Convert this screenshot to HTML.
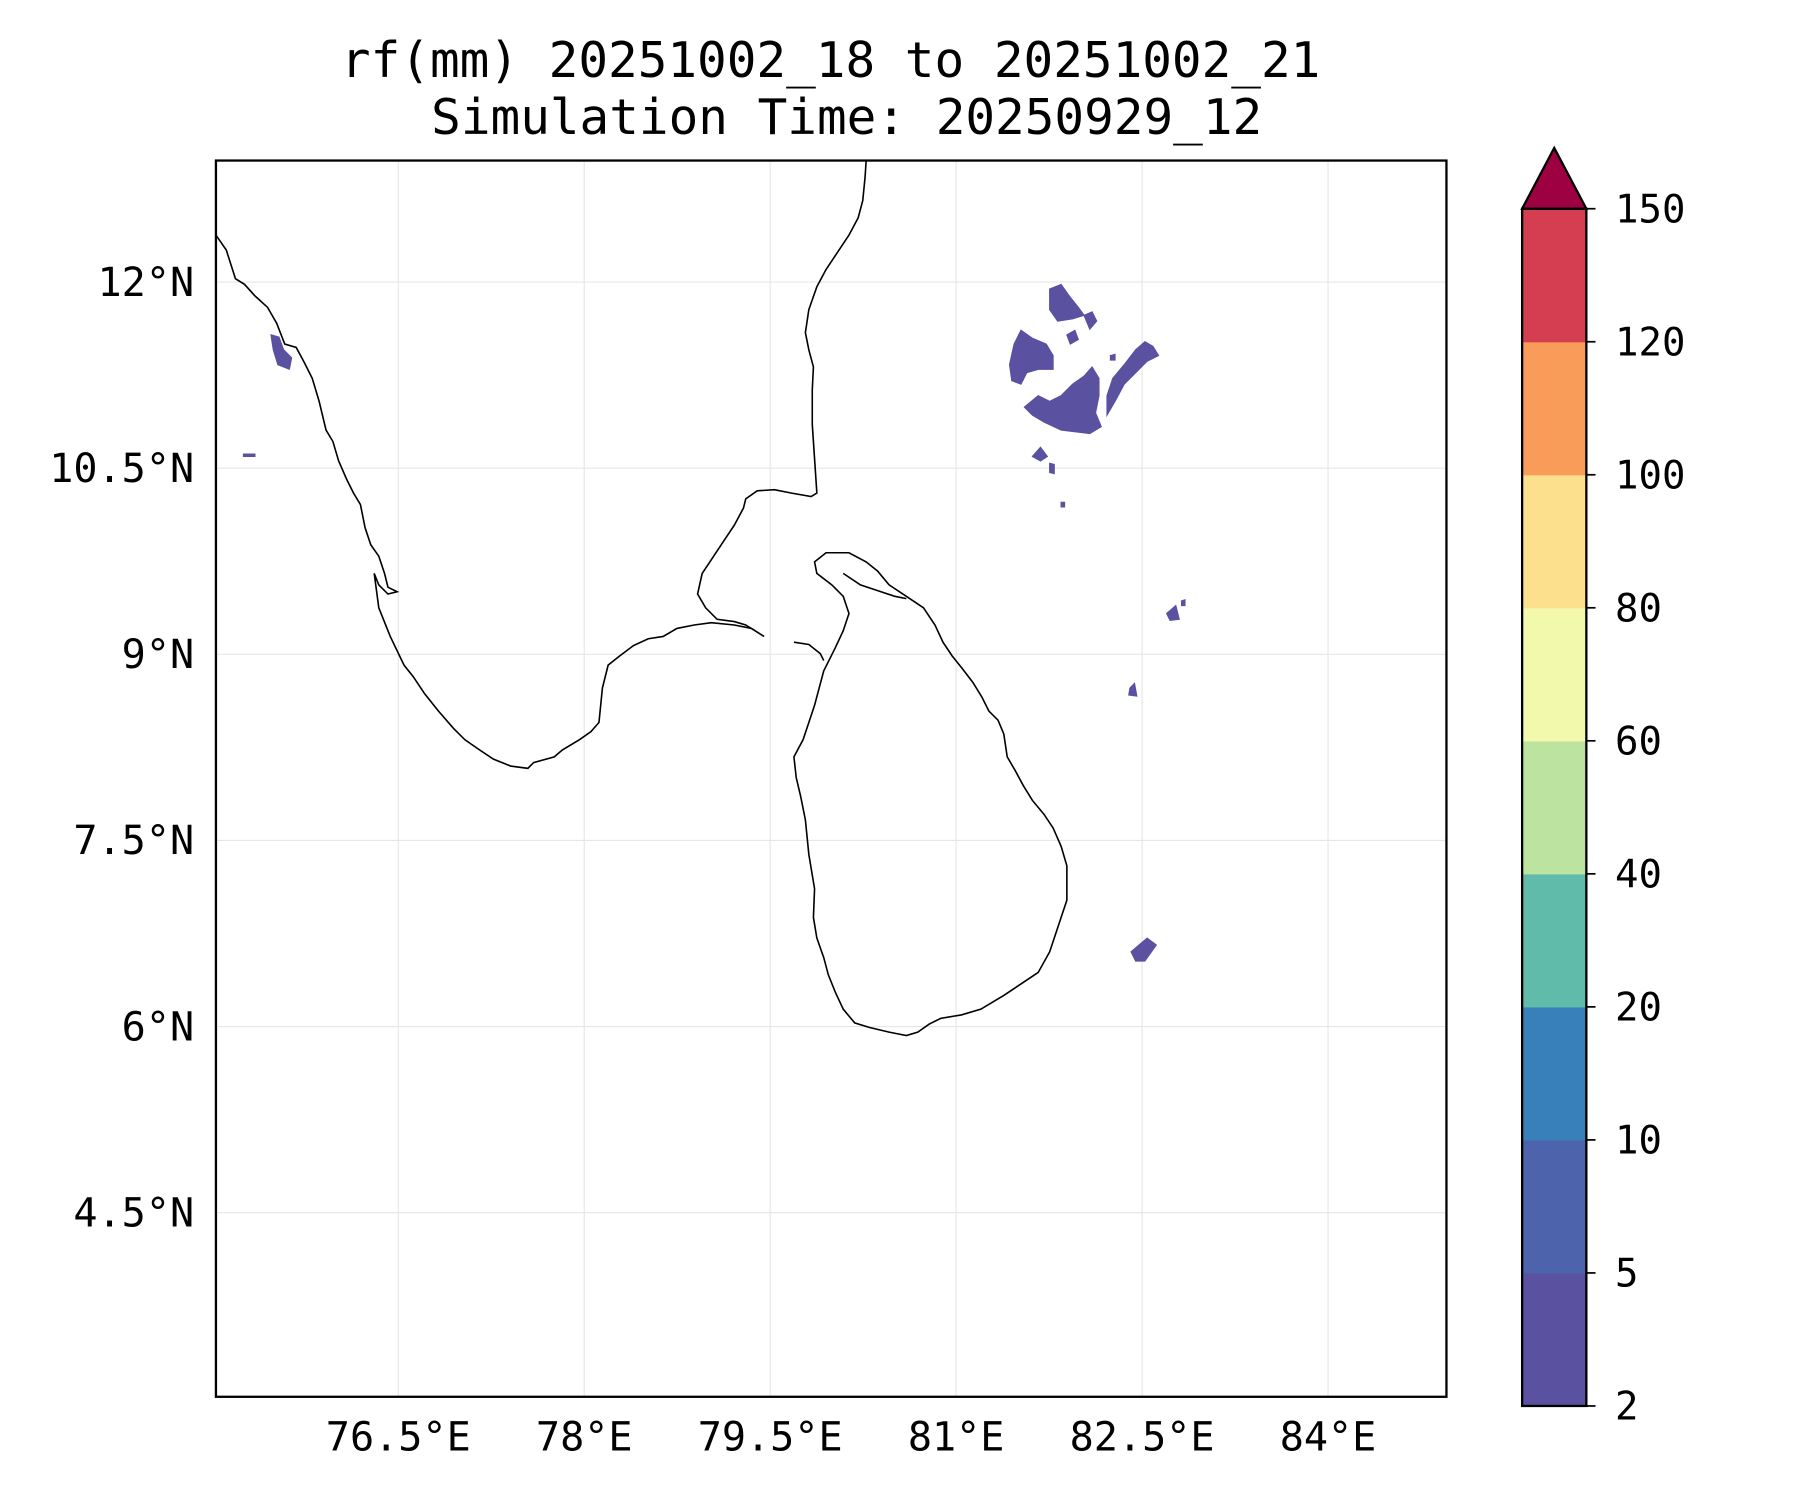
<!DOCTYPE html>
<html><head><meta charset="utf-8"><style>
html,body{margin:0;padding:0;background:#fff;width:1800px;height:1500px;overflow:hidden}
svg{display:block}
text{font-family:"DejaVu Sans Mono","Liberation Mono",monospace;fill:#000}
</style></head><body>
<svg id="chart" width="1800" height="1500" viewBox="0 0 1569 1308" xmlns="http://www.w3.org/2000/svg">
<text x="724" y="67" font-size="43" text-anchor="middle">rf(mm) 20251002_18 to 20251002_21</text>
<text x="738" y="117" font-size="43" text-anchor="middle">Simulation Time: 20250929_12</text>
<g id="grid"></g>
<g fill="#5a51a1" stroke="#5a51a1" stroke-width="1">
<polygon points="915,252 925,248 932,258 940,268 945,275 935,278 922,280 915,270"/>
<polygon points="884,300 890,288 900,295 912,300 918,310 918,322 905,322 895,325 890,335 882,332 880,318"/>
<polygon points="893,355 905,345 915,350 925,345 935,335 945,328 952,320 958,330 958,345 955,360 960,372 950,378 925,375 910,368 900,362"/>
<polygon points="965,345 970,330 980,318 990,305 998,298 1005,302 1010,310 1000,315 990,325 980,335 972,350 965,362"/>
<polygon points="945,275 952,272 956,280 950,287"/>
<polygon points="930,292 937,288 940,296 933,300"/>
<polygon points="900,398 907,390 913,398 907,402"/>
<polygon points="915,404 919,405 919,413 915,412"/>
<polygon points="1017,535 1025,528 1028,540 1020,541"/>
<polygon points="985,600 989,596 991,607 984,606"/>
<polygon points="986,830 1000,818 1008,824 998,838 990,838"/>
<polygon points="236,292 243,294 247,305 254,312 252,322 242,318 238,305"/>
<polygon points="212,396 222,396 222,398 212,398"/>
<polygon points="925,438 928,438 928,442 925,442"/>
<polygon points="968,310 972,309 972,314 968,314"/>
<polygon points="1030,524 1033,523 1033,528 1030,528"/>
</g>
<g fill="none" stroke="#000" stroke-width="1.4">
<polyline points="188,205 197,218 205,243 213,248 222,258 233,268 241,282 248,300 258,303 265,316 272,330 278,350 284,375 290,385 295,402 302,418 308,430 314,440 318,460 323,475 330,485 335,500 338,512 346,516 338,518 330,510 326,500 330,530 340,555 352,580 360,590 370,605 382,620 395,635 405,645 418,654 430,662 445,668 460,670 465,665 483,660 490,654 505,645 515,638 522,630 525,600 530,580 540,572 552,563 565,557 578,555 590,548 605,545 620,543 640,545 655,548 666,555 650,545 640,542 625,540 615,530 608,518 612,500 622,485 632,470 640,458 648,443 650,435 660,428 675,427 690,430 707,433 712,430 710,400 708,370 708,340 709,320 705,305 702,290 705,270 712,250 720,235 730,220 740,205 748,190 752,175 754,155 755,140"/>
<polygon points="710,490 720,482 740,482 755,490 765,498 775,510 790,520 805,530 815,545 822,560 830,572 838,582 848,595 856,608 862,620 870,628 875,640 878,660 885,672 892,685 900,698 910,710 918,722 925,738 930,755 930,785 925,800 920,815 915,830 905,848 890,858 875,868 855,880 838,885 820,888 810,893 800,900 790,903 775,900 758,896 745,892 735,880 728,865 722,850 718,835 712,818 709,800 710,775 705,745 702,715 698,695 694,678 692,660 700,645 705,630 710,615 714,600 718,585 728,565 735,550 740,535 735,520 725,510 712,500"/>
<polyline points="692,560 705,562 715,570 718,576"/>
<polyline points="735,500 750,510 765,515 780,520 790,522"/>
</g>
<rect x="188" y="140" width="1073" height="1078" fill="none" stroke="#000" stroke-width="2"/>
<g id="xticks"></g>
<g id="yticks"></g>
<g id="cbar"></g>
<script>
const lonTicks=[76.5,78,79.5,81,82.5,84];
const lonLabels=["76.5°E","78°E","79.5°E","81°E","82.5°E","84°E"];
const latTicks=[12,10.5,9,7.5,6,4.5];
const latLabels=["12°N","10.5°N","9°N","7.5°N","6°N","4.5°N"];
const cbarLevels=["2","5","10","20","40","60","80","100","120","150"];
const cbarColors=["#5a51a1","#4d63ab","#3880b9","#61bbaa","#bde3a0","#f3f9ac","#fce08d","#f99c5a","#d43e50"];
const NS="http://www.w3.org/2000/svg";
const xs=lon=>347+(lon-76.5)*108.1;
const ys=lat=>246+(12-lat)*108.2;
function mk(tag,attrs,parent){const e=document.createElementNS(NS,tag);for(const k in attrs)e.setAttribute(k,attrs[k]);parent.appendChild(e);return e;}
const grid=document.getElementById('grid'),xt=document.getElementById('xticks'),yt=document.getElementById('yticks'),cb=document.getElementById('cbar');
lonTicks.forEach((v,i)=>{
  const l=mk('line',{x1:xs(v),x2:xs(v),y1:140,y2:1218,stroke:'#e6e6e6','stroke-width':1},grid);
  
  
  const t=mk('text',{x:xs(v),y:1265,'font-size':35,'text-anchor':'middle'},xt);
  t.textContent=lonLabels[i];
  
  
});
latTicks.forEach((v,i)=>{
  const l=mk('line',{x1:188,x2:1261,y1:ys(v),y2:ys(v),stroke:'#e6e6e6','stroke-width':1},grid);
  
  
  const t=mk('text',{x:169,y:ys(v)+12,'font-size':35,'text-anchor':'end'},yt);
  t.textContent=latLabels[i];
  
  
});
const cx=1327,cw=56,ctop=182,cbot=1226,n=cbarColors.length,h=(cbot-ctop)/n;
cbarColors.forEach((c,i)=>{
  const r=mk('rect',{x:cx,y:cbot-(i+1)*h,width:cw,height:h+0.5,fill:c},cb);
  
  
});
const tri=mk('polygon',{points:`${cx},${ctop} ${cx+cw/2},129 ${cx+cw},${ctop}`,fill:'#9e0142',stroke:'#000','stroke-width':2},cb);


const fr=mk('rect',{x:cx,y:ctop,width:cw,height:cbot-ctop,fill:'none',stroke:'#000','stroke-width':2},cb);


cbarLevels.forEach((lab,i)=>{
  const y=cbot-i*h;
  const tk=mk('line',{x1:cx+cw,x2:cx+cw+8,y1:y,y2:y,stroke:'#000','stroke-width':1.5},cb);
  
  
  const t=mk('text',{x:1408,y:y+12,'font-size':34},cb);
  t.textContent=lab;
  
  
});
</script>
</svg>
</body></html>
